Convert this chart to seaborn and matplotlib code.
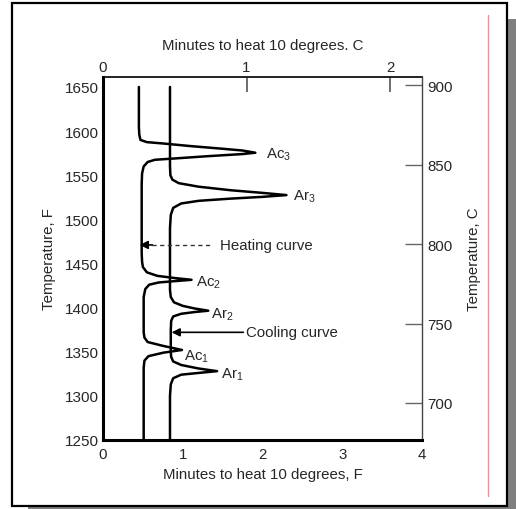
import matplotlib
matplotlib.use('Agg')
import matplotlib.pyplot as plt
import seaborn as sns
import pandas as pd
from matplotlib.patches import Rectangle
from matplotlib.lines import Line2D

# heating curve: minutes to heat 10 F, temperature F
heat_min = [0.45, 0.45, 0.455, 0.47, 0.55, 0.75, 1.1, 1.5, 1.75, 1.91,
            1.75, 1.3, 0.9, 0.65, 0.56, 0.51, 0.49, 0.485, 0.485, 0.485,
            0.49, 0.5, 0.55, 0.68, 0.9, 1.11, 0.9, 0.7, 0.58, 0.53,
            0.51, 0.51, 0.51, 0.52, 0.56, 0.76, 0.99, 0.76, 0.57, 0.52,
            0.51, 0.51]
heat_temp = [1650, 1605, 1596, 1590, 1587.5, 1586, 1583, 1580, 1578, 1575.5,
             1574, 1571.5, 1569, 1567.5, 1565, 1560, 1552, 1540, 1500, 1462,
             1452, 1446, 1440, 1436, 1433.5, 1431.5, 1430, 1428.5, 1426, 1421,
             1412, 1400, 1372, 1366, 1361, 1356.5, 1352, 1349, 1345, 1340,
             1332, 1250]

# cooling curve
cool_min = [0.84, 0.84, 0.845, 0.87, 0.95, 1.2, 1.6, 2.0, 2.30, 2.0,
            1.6, 1.2, 0.98, 0.88, 0.85, 0.84, 0.84, 0.85, 0.89, 1.0,
            1.15, 1.32, 1.15, 0.98, 0.88, 0.855, 0.85, 0.85, 0.855, 0.88,
            0.98, 1.2, 1.43, 1.2, 0.98, 0.88, 0.85, 0.84, 0.84]
cool_temp = [1650, 1560, 1550, 1545, 1541, 1537, 1533, 1530, 1527.5, 1525.5,
             1523.5, 1521, 1518, 1513, 1505, 1490, 1420, 1412, 1406, 1402,
             1399, 1396.5, 1395, 1393, 1390, 1385, 1375, 1350, 1344, 1339,
             1335, 1331, 1328, 1326, 1324, 1320, 1313, 1300, 1250]

# transformation point labels
point_names = ["Ac$_3$", "Ar$_3$", "Ac$_2$", "Ar$_2$", "Ac$_1$", "Ar$_1$"]
point_min = [2.04, 2.38, 1.17, 1.36, 1.01, 1.48]
point_temp = [1574, 1527, 1429, 1393, 1345, 1325]

f_ticks = [1250, 1300, 1350, 1400, 1450, 1500, 1550, 1600, 1650]
c_ticks = [700, 750, 800, 850, 900]
minf_ticks = [0, 1, 2, 3, 4]
minc_ticks = [0, 1, 2]

sns.set_theme(style="white")
plt.rcParams['font.family'] = ['Liberation Sans', 'DejaVu Sans']
plt.rcParams['mathtext.default'] = 'regular'

W, H = 516, 510
fig = plt.figure(figsize=(W / 100, H / 100), dpi=100)
ax = fig.add_axes([103 / W, 69 / H, 319 / W, 363 / H])

heat = pd.DataFrame({"minutes": heat_min, "temp": heat_temp})
cool = pd.DataFrame({"minutes": cool_min, "temp": cool_temp})
sns.lineplot(data=heat, x="minutes", y="temp", sort=False, estimator=None,
             color="black", lw=1.8, ax=ax)
sns.lineplot(data=cool, x="minutes", y="temp", sort=False, estimator=None,
             color="black", lw=1.8, ax=ax)

ax.set_xlim(0, 4)
ax.set_ylim(1250, 1661.3)
ax.set_xticks(minf_ticks)
ax.set_yticks(f_ticks)
ax.set_xticklabels([str(t) for t in minf_ticks], fontsize=10.8)
ax.set_yticklabels([str(t) for t in f_ticks], fontsize=11)
ax.tick_params(axis='y', direction='in', length=12, width=1.4, pad=3,
               color='#333333')
ax.tick_params(axis='x', direction='in', length=11, width=1.4, pad=5,
               color='#333333')
ax.set_xlabel("Minutes to heat 10 degrees, F", fontsize=10.8, labelpad=4.5)
ax.set_ylabel("Temperature, F", fontsize=10.8, labelpad=6)

for s in ['left', 'bottom']:
    ax.spines[s].set_linewidth(2.2)
    ax.spines[s].set_color('black')
ax.spines['top'].set_visible(False)
ax.spines['right'].set_visible(False)

# minutes per 10 C on top: 1 on this scale sits at 1.8 on the F scale
top = ax.secondary_xaxis('top', functions=(lambda m: m / 1.8, lambda m: m * 1.8))
top.set_xticks(minc_ticks)
top.set_xticklabels([str(t) for t in minc_ticks], fontsize=10.8)
top.tick_params(direction='in', length=11, width=1.2, pad=2, color='#555555')
top.spines['top'].set_linewidth(1.4)
top.spines['top'].set_color('#222222')
top.set_xlabel("Minutes to heat 10 degrees. C", fontsize=10.8, labelpad=8)

right = ax.secondary_yaxis('right', functions=(lambda f: (f - 32) / 1.8,
                                               lambda c: c * 1.8 + 32))
right.set_yticks(c_ticks)
right.set_yticklabels([str(t) for t in c_ticks], fontsize=10.8)
right.tick_params(direction='in', length=12, width=1.0, pad=4, color='#666666')
right.spines['right'].set_linewidth(1.0)
right.spines['right'].set_color('#444444')
right.set_ylabel("Temperature, C", fontsize=10.8, labelpad=10)

for name, m, t in zip(point_names, point_min, point_temp):
    ax.text(m, t, name, fontsize=10.8, ha='left', va='center')

# heating curve pointer (broken line in the scan)
ax.annotate("", xy=(0.46, 1471), xytext=(0.62, 1471),
            arrowprops=dict(arrowstyle='-|>', color='black', lw=1.2,
                            mutation_scale=12, shrinkA=0, shrinkB=0))
ax.plot([0.62, 1.36], [1471, 1471], color='#333333', lw=1.0,
        ls=(0, (3, 2.5)))
ax.text(1.47, 1471, "Heating curve", fontsize=10.8, ha='left', va='center')

ax.annotate("", xy=(0.86, 1372), xytext=(1.76, 1372),
            arrowprops=dict(arrowstyle='-|>', color='black', lw=1.2,
                            mutation_scale=12, shrinkA=0, shrinkB=0))
ax.text(1.79, 1372, "Cooling curve", fontsize=10.8, ha='left', va='center')

# page frame, drop shadow and red margin line from the scanned page
fig.patches.append(Rectangle((508 / W, 0), 8 / W, 490 / H, transform=fig.transFigure,
                             facecolor='#7f7f7f', edgecolor='none', zorder=0))
fig.patches.append(Rectangle((28 / W, 0), 488 / W, 3 / H, transform=fig.transFigure,
                             facecolor='#7f7f7f', edgecolor='none', zorder=0))
fig.patches.append(Rectangle((12 / W, 3 / H), 495 / W, 503 / H, transform=fig.transFigure,
                             facecolor='none', edgecolor='black', lw=1.6, zorder=1))
fig.lines.append(Line2D([488 / W, 488 / W], [1 - 16 / H, 1 - 497 / H],
                        transform=fig.transFigure, color='#ff8c8c', lw=1.0))

fig.savefig("out.png", dpi=100)
